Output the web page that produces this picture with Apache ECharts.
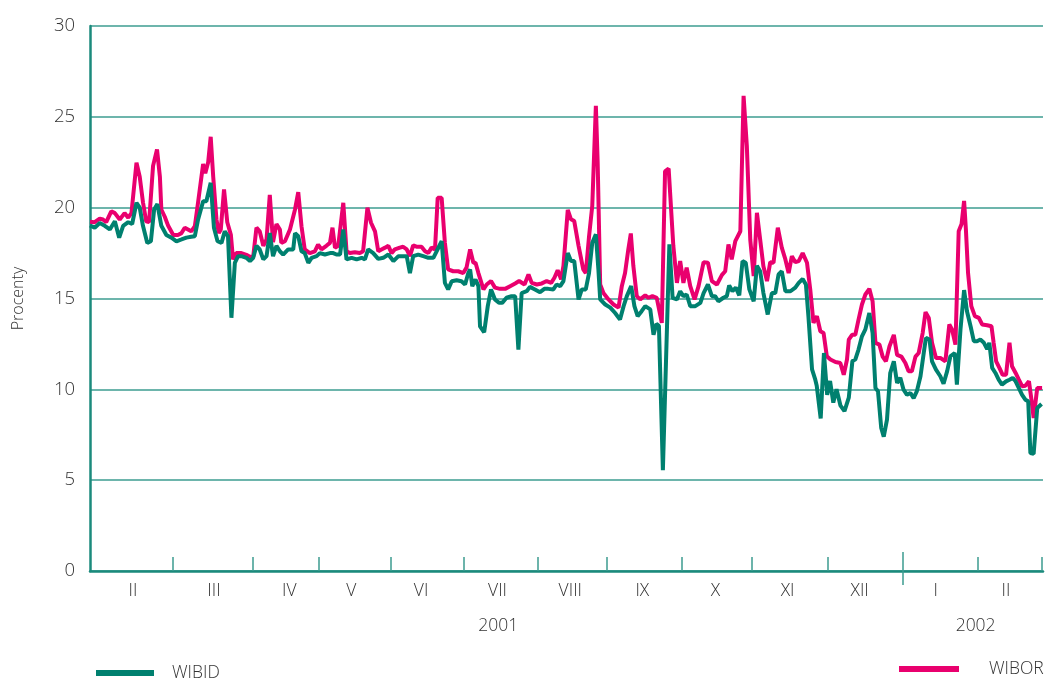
<!DOCTYPE html>
<html><head><meta charset="utf-8">
<script src="https://cdn.jsdelivr.net/npm/echarts@6/dist/echarts.min.js"></script>
<style>html,body{margin:0;padding:0;background:#fff}#c{width:1046px;height:682px}</style>
</head><body><div id="c"></div>
<script>
// x unit: trading-day index from the start of the plotted period
const monthLabels = ['II','III','IV','V','VI','VII','VIII','IX','X','XI','XII','I','II'];
const monthLabelDays = [11.9,34.4,55.3,72.5,91.9,113.1,133.3,153.3,173.6,193.6,213.6,234.7,254.2];
const monthTickDays = [23,45.3,63.6,83.6,103.6,124.2,143.3,164.2,183.6,204.7,225.6,246.4,264.2];
const yearLabels = ['2001','2002'];
const yearLabelDays = [113.3,245.8];
const yearBoundaryDays = [225.6];

const wibor = [[0,19.22],[1.3,19.2],[2.7,19.4],[3.6,19.35],[4.5,19.2],[5.9,19.8],[6.9,19.7],[8.25,19.35],[9.6,19.7],[10.6,19.45],[11.5,19.7],[12.9,22.47],[13.8,21.7],[14.7,20.3],[15.6,19.25],[16.4,19.2],[17.5,22.3],[18.6,23.2],[19.4,21.7],[19.8,19.9],[20.75,19.5],[21.7,19.0],[23.1,18.5],[24.4,18.5],[25.4,18.6],[26.3,18.9],[27.2,18.8],[28.1,18.7],[29.1,18.98],[30.0,20.3],[31.4,22.4],[32.0,21.9],[32.8,22.5],[33.5,23.9],[34.2,21.7],[35.1,19.35],[35.75,18.6],[36.3,18.8],[37.2,21.0],[38.1,19.2],[39.1,18.5],[39.7,17.15],[40.6,17.5],[42.0,17.5],[43.4,17.4],[44.4,17.3],[45.3,17.3],[46.2,18.9],[47.1,18.7],[48.1,17.9],[49.0,18.25],[49.9,20.7],[50.8,18.1],[51.75,19.1],[52.7,18.8],
[53.1,18.06],[54.1,18.15],[55.5,18.8],[56.9,19.9],[57.8,20.85],[58.7,18.98],[59.6,17.7],[61.0,17.5],[62.4,17.6],[63.3,17.97],[64.25,17.7],[65.6,17.9],[66.6,18.06],[67.3,18.9],[68.0,17.8],[68.9,17.9],[70.3,20.27],[71.2,17.6],[72.1,17.5],[73.5,17.55],[74.9,17.5],[75.8,17.6],[77.0,20.0],[78.0,19.17],[79.1,18.7],[80.0,17.6],[80.9,17.7],[81.9,17.8],[82.8,17.9],[83.7,17.5],[84.6,17.7],[86.0,17.8],[86.9,17.85],[87.9,17.7],[88.8,17.33],[89.7,17.92],[90.6,17.85],[92.0,17.85],[93.0,17.6],[93.9,17.5],[94.8,17.8],[95.75,17.7],[96.5,20.54],[97.6,20.54],[98.5,18.06],[99.4,16.6],[100.8,16.5],[102.2,16.5],[103.6,16.4],[104.5,16.7],[105.5,17.7],
[106.4,16.97],[107.0,16.97],[107.8,16.4],[109.2,15.5],[110.1,15.77],[111.3,15.96],[112.4,15.6],[113.8,15.53],[115.2,15.53],[116.6,15.68],[118.0,15.83],[119.1,15.96],[120.6,15.77],[121.7,16.32],[122.6,15.86],[124.0,15.77],[125.4,15.83],[126.75,15.96],[128.0,15.86],[128.9,16.14],[129.8,16.56],[130.75,16.05],[131.4,16.8],[132.6,19.87],[133.5,19.36],[134.4,19.26],[135.6,17.9],[136.9,16.6],[137.6,16.4],[138.5,18.4],[139.4,20.1],[140.4,25.6],[140.9,22.5],[141.6,15.77],[142.5,15.3],[143.9,14.95],[145.3,14.67],[146.7,14.5],[147.6,15.68],[148.5,16.4],[149.4,17.7],[150.1,18.58],[150.8,16.8],[151.75,15.13],[152.7,14.95],[154.1,15.17],[155.0,15.04],[156.1,15.13],[157.3,15.04],
[157.8,14.95],[158.7,13.66],[159.6,22.0],[160.6,22.15],[161.1,22.2],[161.9,17.9],[162.9,15.86],[163.8,17.06],[164.7,15.86],[165.6,16.7],[166.6,15.68],[167.8,14.95],[168.9,15.68],[170.3,17.0],[171.5,16.97],[172.6,15.96],[174.0,15.77],[175.4,16.3],[176.3,16.5],[177.2,17.97],[178.1,17.15],[179.1,18.16],[180.5,18.7],[181.4,26.16],[182.3,23.4],[183.25,18.25],[184.2,16.23],[185.1,19.72],[186.0,18.25],[186.9,16.78],[187.9,15.96],[188.8,17.0],[189.7,16.97],[190.9,18.9],[192.0,17.8],[193.0,17.15],[193.9,16.4],[194.8,17.33],[195.75,17.0],[196.7,17.06],[197.8,17.5],[199.0,16.97],[199.9,15.5],[200.8,13.66],[201.75,14.03],[202.7,13.2],[203.6,13.1],[204.5,11.82],[205.5,11.64],[206.9,11.5],[208.25,11.45],[209.2,10.8],[210.1,11.64],
[210.6,12.74],[211.5,13.0],[212.4,13.0],[213.3,13.84],[214.25,14.67],[215.2,15.22],[216.3,15.53],[217.2,14.85],[218.0,12.56],[219.1,12.46],[220.0,11.8],[220.9,11.54],[221.9,12.37],[223.1,13.0],[224.0,11.9],[225.2,11.8],[226.3,11.45],[227.2,11.0],[228.1,11.0],[229.1,11.8],[230.0,12.0],[231.1,13.1],[231.9,14.25],[232.8,13.93],[233.7,12.56],[234.8,11.73],[236.0,11.73],[237.4,11.54],[238.5,13.57],[239.25,13.3],[240.2,12.46],[241.1,18.7],[241.9,19.1],[242.6,20.37],[243.1,18.8],[243.7,16.4],[244.6,14.58],[245.6,14.03],[246.7,13.93],[247.6,13.57],[249.0,13.53],[250.2,13.47],[250.8,12.56],[251.5,11.54],[252.4,11.18],[253.3,10.8],[254.25,10.8],[255.2,12.56],[255.9,11.27],[256.9,10.9],[257.8,10.53],[258.7,10.17],[259.6,10.2],[260.6,10.44],[261.3,9.43],[261.9,8.42],[262.9,10.07],[264.25,10.07]];

const wibid = [[0,19.02],[1.3,18.9],[2.7,19.15],[4.1,19.0],[5.5,18.8],[6.9,19.25],[8.1,18.35],[9.2,19.0],[10.6,19.2],[11.7,19.1],[12.9,20.27],[13.8,20.0],[14.7,19.0],[15.9,18.06],[16.9,18.15],[17.8,19.9],[18.7,20.2],[19.8,19.0],[21.2,18.5],[22.6,18.35],[24.0,18.15],[25.4,18.25],[26.75,18.35],[28.1,18.4],[29.1,18.43],[30.0,19.35],[31.4,20.35],[32.3,20.35],[33.5,21.37],[34.4,18.9],[35.4,18.15],[36.5,18.06],[37.4,18.7],[38.3,18.43],[39.25,13.94],[40.2,16.96],[41.1,17.33],[42.0,17.33],[43.4,17.24],[44.4,17.06],[45.3,17.24],[46.2,17.9],[47.1,17.7],[48.1,17.15],[49.0,17.33],[49.9,18.6],[50.8,17.33],[51.75,17.9],[52.7,17.6],
[53.6,17.42],[55.0,17.7],[56.4,17.7],[56.9,18.6],[57.8,18.43],[58.7,17.6],[59.6,17.5],[60.6,16.96],[61.5,17.24],[62.9,17.33],[63.8,17.5],[65.2,17.42],[66.6,17.5],[67.5,17.5],[68.4,17.42],[69.4,17.42],[70.3,18.8],[71.2,17.15],[72.6,17.24],[74.0,17.15],[75.4,17.24],[76.3,17.15],[77.2,17.7],[78.6,17.5],[80.0,17.18],[81.4,17.24],[82.8,17.42],[84.2,17.06],[85.6,17.33],[86.9,17.33],[87.9,17.33],[88.8,16.4],[89.7,17.33],[91.1,17.42],[92.5,17.33],[93.9,17.24],[95.3,17.24],[96.2,17.6],[97.6,18.15],[98.5,15.86],[99.4,15.5],[100.4,15.95],[101.75,16.0],[103.1,15.95],[104.1,15.77],[105.0,16.4],
[105.5,16.6],[106.1,15.68],[107.0,16.05],[107.8,15.68],[108.25,13.47],[109.4,13.14],[110.4,14.58],[111.3,15.5],[112.4,14.95],[113.5,14.76],[114.4,14.76],[115.6,15.04],[117.0,15.13],[118.0,15.13],[118.9,12.19],[119.8,15.3],[121.2,15.4],[122.1,15.64],[123.5,15.5],[124.9,15.35],[126.1,15.53],[127.2,15.53],[128.6,15.5],[129.5,15.77],[130.5,15.68],[131.4,15.96],[132.6,17.5],[133.5,17.06],[134.4,17.06],[135.6,14.95],[136.5,15.5],[137.6,15.5],[138.5,16.4],[139.4,18.07],[140.4,18.53],[141.1,16.6],[141.6,14.95],[143.0,14.67],[144.4,14.5],[145.75,14.2],[147.1,13.84],[148.1,14.58],[149.0,15.13],[150.2,15.68],[151.1,14.58],[152.0,14.03],[153.1,14.3],[154.1,14.58],[155.5,14.4],[156.4,13.0],[157.2,13.6],[157.9,13.5],[159.0,5.55],
[160.8,17.98],[161.7,15.04],[162.9,14.95],[163.8,15.4],[164.7,15.13],[165.6,15.22],[166.6,14.58],[168.0,14.58],[169.4,14.76],[170.3,15.3],[171.5,15.77],[172.6,15.13],[173.5,15.13],[174.4,14.85],[175.8,15.04],[176.75,15.13],[177.4,15.72],[178.3,15.4],[179.25,15.6],[180.2,15.17],[181.1,17.06],[182.0,16.97],[183.0,15.5],[184.2,14.85],[185.1,16.8],[186.0,16.5],[186.9,15.3],[188.1,14.12],[189.25,15.3],[190.2,15.3],[191.1,16.32],[192.0,16.5],[193.0,15.4],[194.4,15.4],[195.75,15.6],[196.7,15.86],[197.8,16.08],[198.7,15.77],[199.4,14.0],[200.4,11.1],[201.3,10.53],[201.7,10.2],[202.8,8.4],[203.7,12.0],[204.6,9.7],[205.4,10.46],[206.3,9.27],[207.2,10.0],[208.3,9.1],[209.4,8.8],[210.6,9.54],[211.6,11.56],
[212.4,11.64],[213.3,12.19],[214.25,12.92],[215.2,13.3],[216.3,14.2],[217.2,13.1],[218.0,10.07],[218.7,9.9],[219.6,7.87],[220.3,7.4],[221.2,8.33],[222.1,10.9],[223.1,11.54],[224.0,10.35],[224.9,10.63],[225.8,9.98],[226.75,9.7],[227.7,9.8],[228.6,9.52],[229.5,9.9],[230.5,10.72],[231.4,12.0],[232.0,12.83],[233.0,12.74],[233.7,11.54],[234.8,11.08],[236.0,10.72],[236.9,10.31],[237.9,11.0],[238.8,11.82],[240.0,12.0],[240.6,10.26],[241.6,13.3],[242.6,15.46],[243.4,14.3],[244.4,13.47],[245.3,12.65],[246.2,12.65],[247.1,12.74],[248.1,12.56],[249.0,12.22],[249.6,12.56],[250.4,11.18],[251.3,10.9],[252.2,10.53],[253.1,10.26],[254.25,10.44],[255.2,10.53],[256.1,10.63],[256.9,10.44],[257.8,10.07],[258.7,9.7],[259.6,9.43],[260.4,9.34],[261.0,6.49],[261.9,6.45],[262.9,8.97],[264.1,9.19]];

const TEAL = '#00806f';
const PINK = '#e9006e';
const AXIS = '#1b8a7c';
const GRIDC = '#3c9c90';
const FONT = '"Open Sans", "Noto Sans", sans-serif';
const TXT = '#333333';
function lookup(days, names, v){ const i = days.findIndex(d => Math.abs(d - v) < 0.01); return i < 0 ? '' : names[i]; }

const chart = echarts.init(document.getElementById('c'), null, {renderer:'canvas'});
chart.setOption({
  animation: false,
  backgroundColor: '#fff',
  grid: {left: 90, right: 3, top: 26, bottom: 111, containLabel: false, outerBoundsMode: 'none'},
  legend: [
    {data: ['WIBID'], left: 91, top: 659, icon: 'rect', itemWidth: 58, itemHeight: 6, itemGap: 0,
     textStyle: {fontFamily: FONT, fontSize: 17.5, color: TXT, fontWeight: 300, padding: [0,0,0,13]}},
    {data: ['WIBOR'], left: 894, top: 655, icon: 'rect', itemWidth: 60, itemHeight: 6, itemGap: 0,
     textStyle: {fontFamily: FONT, fontSize: 17.5, color: TXT, fontWeight: 300, padding: [0,0,0,25]}}
  ],
  xAxis: [
    {type: 'value', min: 0, max: 264.5, position: 'bottom',
     axisLine: {show: true, onZero: false, lineStyle: {color: AXIS, width: 2.5}},
     axisTick: {show: true, inside: true, length: 14, customValues: monthTickDays, lineStyle: {color: GRIDC, width: 1.5}},
     axisLabel: {show: true, customValues: monthLabelDays, margin: 11, fontFamily: FONT, fontSize: 17.5, color: TXT, fontWeight: 300,
       formatter: v => lookup(monthLabelDays, monthLabels, v)},
     splitLine: {show: false}},
    {type: 'value', min: 0, max: 264.5, position: 'bottom',
     axisLine: {show: false},
     axisTick: {show: true, inside: false, length: 14, customValues: yearBoundaryDays, lineStyle: {color: GRIDC, width: 1.5}},
     axisLabel: {show: true, customValues: yearLabelDays, margin: 46, fontFamily: FONT, fontSize: 17.5, color: TXT, fontWeight: 300,
       formatter: v => lookup(yearLabelDays, yearLabels, v)},
     splitLine: {show: false}},
    {type: 'value', min: 0, max: 264.5, position: 'bottom',
     axisLine: {show: false},
     axisTick: {show: true, inside: true, length: 19, customValues: yearBoundaryDays, lineStyle: {color: GRIDC, width: 1.5}},
     axisLabel: {show: false},
     splitLine: {show: false}}
  ],
  yAxis: {type: 'value', min: 0, max: 30, interval: 5,
    name: 'Procenty', nameLocation: 'middle', nameRotate: 90, nameGap: 64,
    nameTextStyle: {fontFamily: FONT, fontSize: 16, color: TXT, fontWeight: 300},
    axisLine: {show: true, lineStyle: {color: AXIS, width: 2.5}},
    axisTick: {show: false},
    axisLabel: {margin: 15, fontFamily: FONT, fontSize: 18.5, color: TXT, fontWeight: 300},
    splitLine: {show: true, lineStyle: {color: GRIDC, width: 1.5}}},
  series: [
    {name: 'WIBOR', type: 'line', data: wibor, showSymbol: false, symbol: 'none', xAxisIndex: 0,
     lineStyle: {color: PINK, width: 4}, itemStyle: {color: PINK}, z: 2},
    {name: 'WIBID', type: 'line', data: wibid, showSymbol: false, symbol: 'none', xAxisIndex: 0,
     lineStyle: {color: TEAL, width: 4}, itemStyle: {color: TEAL}, z: 3}
  ]
});
</script></body></html>
